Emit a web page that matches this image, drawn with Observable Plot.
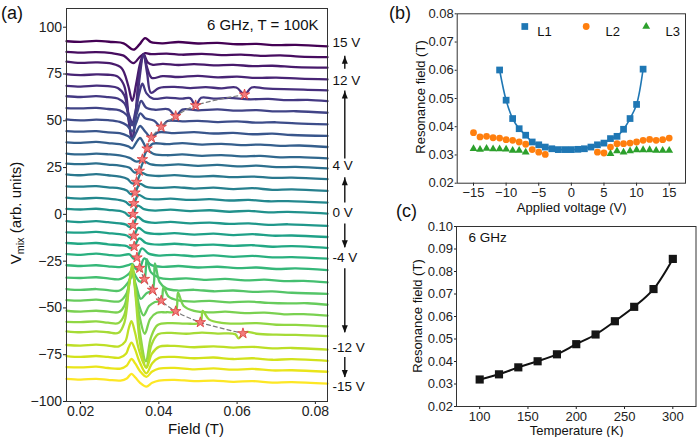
<!DOCTYPE html>
<html><head><meta charset="utf-8">
<script src="https://cdn.jsdelivr.net/npm/d3@7"></script>
<script src="https://cdn.jsdelivr.net/npm/@observablehq/plot@0.6"></script>
<style>
body{margin:0;background:#fff;}
#wrap{position:relative;width:697px;height:437px;overflow:hidden;font-family:"Liberation Sans",Arial,sans-serif;color:#111;background:#fff;}
.t{position:absolute;white-space:nowrap;line-height:1;}
.c{transform:translate(-50%,-50%);}
.r{transform:translate(-50%,-50%) rotate(-90deg);}
.t sub{font-size:0.72em;vertical-align:-0.28em;line-height:0;}
</style></head><body><div id="wrap"></div>
<script>
// ---------- Panel (a): waterfall of Vmix traces ----------
const fieldDomain = [0.0164, 0.0831];
const vmixDomain = [-100, 110];
const fieldTicks = [0.02, 0.04, 0.06, 0.08];
const vmixTicks = [-100, -75, -50, -25, 0, 25, 50, 75, 100];

const voltages = [15,14,13,12,11,10,9,8,7,6,5,4,3,2,1,0,-1,-2,-3,-4,-5,-6,-7,-8,-9,-10,-11,-12,-13,-14,-15];
const offsets = [91.2,85.3,79.6,73.4,67.5,61.8,55.6,49.4,43.2,37.3,31.2,25.9,20.1,13.8,7.6,1.7,-4.9,-10.8,-16.6,-22.4,-28.5,-35.0,-41.2,-47.0,-52.8,-58.6,-63.8,-71.0,-77.0,-82.8,-89.2];

// [field (T), value relative to the trace offset]
const traces = [
 [[0.0164,1.3],[0.020,1.0],[0.024,1.5],[0.028,0.9],[0.031,0.2],[0.0335,-3.2],[0.0350,-0.5],[0.0365,3.0],[0.0380,0.8],[0.041,0.2],[0.045,0.9],[0.050,0.1],[0.055,0.4],[0.060,-0.3],[0.065,-0.1],[0.070,-0.8],[0.075,-0.6],[0.0831,-1.4]],
 [[0.0164,1.5],[0.020,1.1],[0.024,1.4],[0.028,0.8],[0.031,-0.5],[0.0335,-4.5],[0.0352,-1.0],[0.0365,0.8],[0.038,0.3],[0.042,0.6],[0.046,0.0],[0.051,0.5],[0.056,-0.2],[0.061,0.1],[0.066,-0.6],[0.071,-0.3],[0.076,-1.0],[0.0831,-1.3]],
 [[0.0164,2.0],[0.020,1.3],[0.024,1.6],[0.028,0.9],[0.0305,-1.5],[0.0322,-11],[0.0332,-19],[0.0342,-10],[0.0352,1],[0.0361,6],[0.0372,1.5],[0.0385,0.3],[0.041,0.8],[0.045,0.2],[0.049,0.7],[0.054,0.0],[0.059,0.3],[0.064,-0.4],[0.069,-0.2],[0.075,-0.9],[0.0831,-1.2]],
 [[0.0164,1.5],[0.020,1.0],[0.024,1.4],[0.027,1.2],[0.0295,0.2],[0.0312,-5],[0.0324,-24],[0.0332,-34],[0.0340,-21],[0.0350,2],[0.0361,12],[0.0370,5],[0.0382,-0.5],[0.041,0.5],[0.045,0.0],[0.050,0.6],[0.055,-0.2],[0.060,0.2],[0.065,-0.5],[0.070,-0.3],[0.076,-0.9],[0.0831,-1.3]],
 [[0.0164,1.2],[0.020,0.8],[0.024,1.3],[0.027,1.0],[0.0295,0.0],[0.0312,-4],[0.0324,-19],[0.0332,-28],[0.0340,-17],[0.0350,4],[0.0361,18],[0.0370,8],[0.0380,-2.5],[0.040,0.0],[0.044,0.6],[0.048,0.0],[0.052,0.5],[0.056,-0.2],[0.0598,0.3],[0.0619,-3.5],[0.0637,0.3],[0.067,-0.2],[0.072,-0.6],[0.077,-0.8],[0.0831,-1.3]],
 [[0.0164,1.3],[0.020,0.9],[0.024,1.4],[0.027,0.8],[0.0295,0.1],[0.0312,-2.5],[0.0324,-9],[0.0332,-13],[0.0341,-6],[0.0350,3],[0.0358,8],[0.0368,3],[0.0385,0.0],[0.042,0.6],[0.046,0.0],[0.0480,0.3],[0.0494,-3.6],[0.0508,0.5],[0.054,0.0],[0.058,0.4],[0.063,-0.3],[0.068,-0.1],[0.073,-0.8],[0.078,-0.6],[0.0831,-1.3]],
 [[0.0164,1.2],[0.020,1.0],[0.024,1.3],[0.027,0.7],[0.030,0.0],[0.0318,-2.5],[0.0332,-8],[0.0344,-1.5],[0.0355,5],[0.0367,1.5],[0.039,0.3],[0.0425,0.5],[0.0443,-3.1],[0.046,0.4],[0.050,0.0],[0.055,0.5],[0.060,-0.2],[0.065,0.1],[0.070,-0.6],[0.075,-0.5],[0.0831,-1.3]],
 [[0.0164,1.3],[0.020,0.8],[0.024,1.2],[0.027,0.9],[0.030,0.0],[0.0318,-1.8],[0.0332,-5],[0.0343,0.0],[0.0353,4.5],[0.0365,2],[0.0388,0.6],[0.0406,-2.7],[0.0422,0.5],[0.046,0.3],[0.050,0.6],[0.055,-0.1],[0.060,0.3],[0.065,-0.4],[0.070,-0.2],[0.075,-0.8],[0.0831,-1.3]],
 [[0.0164,1.3],[0.020,1.0],[0.024,1.3],[0.027,0.6],[0.030,0.2],[0.0322,-1.5],[0.0332,-3],[0.0342,0.5],[0.0352,4],[0.0366,0.8],[0.0381,-2.2],[0.0398,0.6],[0.044,0.2],[0.049,0.7],[0.054,0.0],[0.059,0.3],[0.064,-0.4],[0.069,-0.1],[0.074,-0.8],[0.0831,-1.3]],
 [[0.0164,1.2],[0.020,0.9],[0.024,1.4],[0.027,0.8],[0.030,0.2],[0.0322,-1],[0.0332,-2],[0.0342,1],[0.0352,3.5],[0.0360,1.2],[0.0370,-2.2],[0.0385,0.5],[0.042,0.2],[0.046,0.8],[0.051,0.0],[0.056,0.4],[0.061,-0.3],[0.066,0.0],[0.071,-0.7],[0.076,-0.5],[0.0831,-1.3]],
 [[0.0164,1.3],[0.020,0.8],[0.024,1.2],[0.027,0.9],[0.030,0.3],[0.0325,-1.0],[0.0343,-3.0],[0.0358,-1.8],[0.0370,2.8],[0.0388,1.0],[0.042,0.4],[0.046,0.8],[0.051,0.1],[0.056,0.5],[0.061,-0.2],[0.066,0.0],[0.071,-0.7],[0.076,-0.6],[0.0831,-1.3]],
 [[0.0164,1.2],[0.020,0.9],[0.024,1.3],[0.027,0.7],[0.030,0.2],[0.0325,-1.0],[0.0338,-3.6],[0.0350,-2.7],[0.0362,2.2],[0.0380,0.8],[0.041,0.3],[0.045,0.8],[0.050,0.0],[0.055,0.5],[0.060,-0.3],[0.065,0.1],[0.070,-0.7],[0.075,-0.5],[0.0831,-1.3]],
 [[0.0164,1.3],[0.020,0.8],[0.024,1.4],[0.027,0.8],[0.030,0.1],[0.0320,-1.2],[0.0332,-3.6],[0.0343,-2.8],[0.0355,2.0],[0.0372,0.8],[0.040,0.4],[0.044,0.9],[0.049,0.1],[0.054,0.4],[0.059,-0.2],[0.064,0.1],[0.069,-0.6],[0.074,-0.5],[0.0831,-1.3]],
 [[0.0164,1.2],[0.020,1.0],[0.024,1.3],[0.027,0.6],[0.030,0.1],[0.0318,-1.0],[0.0328,-3.0],[0.0339,-2.2],[0.0351,2.4],[0.0368,0.9],[0.040,0.3],[0.044,0.8],[0.049,0.0],[0.054,0.5],[0.059,-0.3],[0.064,0.2],[0.069,-0.7],[0.074,-0.4],[0.0831,-1.3]],
 [[0.0164,1.3],[0.020,0.8],[0.024,1.2],[0.027,0.8],[0.030,0.0],[0.0316,-1.0],[0.0325,-2.6],[0.0336,-1.7],[0.0348,2.8],[0.0365,1.0],[0.039,0.4],[0.043,0.8],[0.048,0.1],[0.053,0.5],[0.058,-0.2],[0.063,0.1],[0.068,-0.6],[0.073,-0.5],[0.0831,-1.3]],
 [[0.0164,1.2],[0.020,0.9],[0.024,1.3],[0.027,0.7],[0.030,0.1],[0.0314,-0.9],[0.0323,-2.5],[0.0334,-1.6],[0.0346,3.0],[0.0362,1.1],[0.039,0.3],[0.043,0.8],[0.048,0.0],[0.053,0.5],[0.058,-0.3],[0.063,0.2],[0.068,-0.6],[0.073,-0.4],[0.0831,-1.3]],
 [[0.0164,1.3],[0.020,0.8],[0.024,1.3],[0.027,0.7],[0.030,0.1],[0.0316,-0.6],[0.0325,-1.8],[0.0334,-0.9],[0.0346,3.5],[0.0362,1.3],[0.039,0.4],[0.043,0.9],[0.048,0.1],[0.053,0.5],[0.058,-0.2],[0.063,0.1],[0.068,-0.7],[0.073,-0.4],[0.0831,-1.3]],
 [[0.0164,1.2],[0.020,1.0],[0.024,1.4],[0.027,0.8],[0.030,0.2],[0.0318,-0.5],[0.0327,-1.6],[0.0336,-0.7],[0.0348,3.6],[0.0365,1.2],[0.040,0.3],[0.044,0.8],[0.049,0.0],[0.054,0.5],[0.059,-0.3],[0.064,0.2],[0.069,-0.6],[0.074,-0.5],[0.0831,-1.3]],
 [[0.0164,1.3],[0.020,0.9],[0.024,1.3],[0.027,0.6],[0.030,0.1],[0.0318,-0.4],[0.0328,-1.5],[0.0337,-0.6],[0.0350,3.8],[0.0367,1.3],[0.040,0.4],[0.044,0.9],[0.049,0.1],[0.054,0.4],[0.059,-0.2],[0.064,0.1],[0.069,-0.7],[0.074,-0.4],[0.0831,-1.3]],
 [[0.0164,1.2],[0.020,0.8],[0.024,1.4],[0.027,0.8],[0.030,0.3],[0.0325,1.0],[0.0335,-1.2],[0.0344,-0.7],[0.0357,4.2],[0.0374,1.4],[0.040,0.4],[0.044,0.8],[0.049,0.0],[0.054,0.5],[0.059,-0.3],[0.064,0.2],[0.069,-0.6],[0.074,-0.5],[0.0831,-1.3]],
 [[0.0164,1.3],[0.020,0.9],[0.024,1.3],[0.027,0.7],[0.030,0.3],[0.0324,1.5],[0.0332,2.0],[0.0342,-0.8],[0.0351,-0.2],[0.0363,5.0],[0.0380,1.5],[0.041,0.4],[0.045,0.9],[0.050,0.1],[0.055,0.5],[0.060,-0.2],[0.065,0.1],[0.070,-0.7],[0.075,-0.4],[0.0831,-1.3]],
 [[0.0164,1.2],[0.020,1.0],[0.024,1.4],[0.027,0.8],[0.030,0.4],[0.0322,3],[0.0332,5],[0.0342,1.5],[0.0352,-1],[0.0363,0.4],[0.0369,11],[0.0380,4],[0.040,1.2],[0.043,0.4],[0.047,0.8],[0.052,0.0],[0.057,0.5],[0.062,-0.3],[0.067,0.1],[0.072,-0.7],[0.077,-0.5],[0.0831,-1.3]],
 [[0.0164,1.3],[0.020,0.8],[0.024,1.3],[0.027,0.7],[0.030,0.5],[0.0322,5],[0.0332,9],[0.0342,3],[0.0354,-4],[0.0368,-1],[0.0384,0.8],[0.0390,15],[0.0402,5],[0.042,1.5],[0.045,0.5],[0.049,0.9],[0.054,0.1],[0.059,0.5],[0.064,-0.2],[0.069,0.0],[0.074,-0.7],[0.0831,-1.3]],
 [[0.0164,1.2],[0.020,0.9],[0.024,1.4],[0.027,0.8],[0.0300,0.6],[0.0318,5],[0.0325,11],[0.0332,15],[0.0341,8],[0.0350,-2],[0.0361,-7],[0.0375,-2],[0.039,0.2],[0.0406,0.9],[0.0412,8],[0.0425,3],[0.045,1],[0.049,0.4],[0.053,0.8],[0.058,0.0],[0.063,0.4],[0.068,-0.3],[0.073,-0.6],[0.078,-0.5],[0.0831,-1.3]],
 [[0.0164,1.3],[0.020,0.8],[0.024,1.3],[0.027,0.8],[0.0298,0.6],[0.0312,4],[0.0324,16],[0.0332,23],[0.0341,12],[0.0352,-3],[0.0364,-11],[0.0378,-3],[0.0395,0.2],[0.042,0.5],[0.0443,1.0],[0.0449,11],[0.0463,4],[0.049,1.2],[0.053,0.4],[0.057,0.8],[0.062,0.0],[0.067,0.3],[0.072,-0.6],[0.077,-0.5],[0.0831,-1.3]],
 [[0.0164,1.2],[0.020,1.0],[0.024,1.4],[0.027,0.7],[0.0297,0.5],[0.0312,5],[0.0324,21],[0.0332,30],[0.0341,16],[0.0352,-5],[0.0367,-20],[0.0380,-7],[0.0397,-0.5],[0.043,0.5],[0.047,0.2],[0.0506,0.9],[0.0512,7],[0.0528,2.5],[0.056,0.6],[0.060,0.2],[0.065,0.5],[0.070,-0.4],[0.075,-0.5],[0.0831,-1.3]],
 [[0.0164,1.3],[0.020,0.8],[0.024,1.3],[0.027,0.8],[0.0297,0.5],[0.0312,6],[0.0324,26],[0.0332,37],[0.0341,19],[0.0352,-5],[0.0368,-18],[0.0381,-6],[0.0398,-0.3],[0.043,0.5],[0.047,0.0],[0.051,0.6],[0.055,0.1],[0.0595,-0.2],[0.0604,-2.5],[0.0615,0.2],[0.0626,1.0],[0.065,0.0],[0.070,-0.5],[0.075,-0.6],[0.0831,-1.3]],
 [[0.0164,1.2],[0.020,0.9],[0.024,1.4],[0.027,0.9],[0.0298,0.5],[0.0314,3],[0.0323,10],[0.0330,14],[0.0339,8],[0.0350,-2],[0.0368,-11],[0.0382,-3.5],[0.040,0.2],[0.044,0.7],[0.049,0.0],[0.054,0.5],[0.059,-0.2],[0.064,0.2],[0.069,-0.6],[0.074,-0.4],[0.0831,-1.3]],
 [[0.0164,1.3],[0.020,0.8],[0.024,1.3],[0.027,0.8],[0.0300,0.4],[0.0316,2.5],[0.0323,6],[0.0330,8.5],[0.0339,5],[0.0350,-1.5],[0.0368,-8],[0.0383,-2.5],[0.040,0.3],[0.044,0.8],[0.049,0.1],[0.054,0.5],[0.059,-0.3],[0.064,0.1],[0.069,-0.7],[0.074,-0.4],[0.0831,-1.3]],
 [[0.0164,1.2],[0.020,1.0],[0.024,1.4],[0.027,0.7],[0.0302,0.4],[0.0318,2],[0.0330,5.5],[0.0340,3],[0.0352,-1],[0.0368,-4],[0.0383,-1.2],[0.040,0.4],[0.044,0.8],[0.049,0.0],[0.054,0.5],[0.059,-0.2],[0.064,0.2],[0.069,-0.6],[0.074,-0.5],[0.0831,-1.3]],
 [[0.0164,1.3],[0.020,0.9],[0.024,1.3],[0.027,0.8],[0.0302,0.4],[0.0318,1.5],[0.0330,4],[0.0340,2],[0.0352,-0.8],[0.0368,-2.8],[0.0383,-0.8],[0.040,0.4],[0.044,0.8],[0.049,0.1],[0.054,0.4],[0.059,-0.3],[0.064,0.1],[0.069,-0.7],[0.074,-0.4],[0.0831,-1.3]]
];

// resonance markers (stars) in panel (a)
const starVolts  = [11,10,9,8,7,6,5,4,3,2,1,0,-1,-2,-3,-4,-5,-6,-7,-8,-9,-10,-11];
const starFields = [0.0619,0.0494,0.0443,0.0406,0.0381,0.0370,0.0358,0.0350,0.0343,0.0339,0.0336,0.0334,0.0334,0.0336,0.0337,0.0344,0.0351,0.0363,0.0384,0.0406,0.0443,0.0506,0.0615];
const starValues = [64.0,58.2,52.5,46.7,41.0,35.1,29.4,23.2,17.3,11.6,5.9,0.1,-5.8,-11.5,-17.2,-23.1,-28.7,-34.6,-40.4,-46.1,-51.8,-57.7,-63.6];
const dashedVolts = [11,10,9,8,7,6,-5,-6,-7,-8,-9,-10,-11];

// voltage labels and sweep arrows on the right of panel (a)
const voltLabels = ["15 V","12 V","4 V","0 V","-4 V","-12 V","-15 V"];
const voltLabelY = [91.5,71.7,25.9,0.8,-23.2,-71.2,-92.0];
const arrowFrom = [77.6,29.6,6.1,-5.1,-29.1,-76.5];
const arrowTo   = [84.5,65.9,19.5,-17.9,-63.2,-87.2];

// ---------- Panel (b) ----------
const voltsL1 = [-11,-10,-9,-8,-7,-6,-5,-4,-3,-2,-1,0,1,2,3,4,5,6,7,8,9,10,11];
const fieldL1 = [0.0601,0.0494,0.0429,0.0393,0.0370,0.0346,0.0336,0.0328,0.0322,0.0319,0.0319,0.0319,0.0320,0.0322,0.0328,0.0336,0.0342,0.0358,0.0366,0.0391,0.0429,0.0479,0.0604];
const voltsL2 = [-15,-14,-13,-12,-11,-10,-9,-8,-7,-6,-5,-4,4,5,6,7,8,9,10,11,12,13,14,15];
const fieldL2 = [0.0379,0.0364,0.0366,0.0361,0.0360,0.0354,0.0352,0.0346,0.0338,0.0319,0.0310,0.0302,0.0310,0.0307,0.0328,0.0340,0.0340,0.0342,0.0346,0.0352,0.0355,0.0352,0.0354,0.0360];
const voltsL3 = [-15,-14,-13,-12,-11,-10,-9,-8,-7,6,7,8,9,10,11,12,13,14,15];
const fieldL3 = [0.0322,0.0319,0.0323,0.0321,0.0321,0.0320,0.0316,0.0316,0.0310,0.0304,0.0314,0.0310,0.0314,0.0318,0.0318,0.0318,0.0316,0.0316,0.0316];
const voltTicks = [-15,-10,-5,0,5,10,15];
const resTicksB = [0.02,0.03,0.04,0.05,0.06,0.07,0.08];
const legendNames = ["L1","L2","L3"];
const seriesColors = ["#1f77b4","#ff7f0e","#2ca02c"];

// ---------- Panel (c) ----------
const temps  = [100,120,140,160,180,200,220,240,260,280,300];
const fieldT = [0.0320,0.0343,0.0374,0.0401,0.0432,0.0477,0.0520,0.0579,0.0643,0.0722,0.0856];
const tempTicks = [100,150,200,250,300];
const resTicksC = [0.02,0.03,0.04,0.05,0.06,0.07,0.08,0.09,0.10];

const FONT = '"Liberation Sans", Arial, sans-serif';
const wrap = document.getElementById("wrap");
function place(el, left, top) {
  el.style.position = "absolute"; el.style.left = left + "px"; el.style.top = top + "px";
  wrap.appendChild(el);
}
function addText(html, x, y, size, cls) {
  const d = document.createElement("div");
  d.className = "t " + cls;
  d.innerHTML = html;
  d.style.left = x + "px"; d.style.top = y + "px"; d.style.fontSize = size + "px";
  wrap.appendChild(d);
}

// build rows
const traceRows = [];
voltages.forEach((v, i) => traces[i].forEach(([f, d]) => traceRows.push({v, f, y: offsets[i] + d})));
const starRows = starVolts.map((v, i) => ({v, f: starFields[i], y: starValues[i], side: v > 0 ? "p" : "n"}));
const dashRows = starRows.filter(d => dashedVolts.includes(d.v));
const labelRows = voltLabels.map((t, i) => ({t, y: voltLabelY[i]}));
const arrowRows = arrowFrom.map((a, i) => ({a, b: arrowTo[i], up: arrowTo[i] > a}));
const headUp = {draw(ctx){ctx.moveTo(0,0);ctx.lineTo(-3,7.5);ctx.lineTo(3,7.5);ctx.closePath();}};
const headDown = {draw(ctx){ctx.moveTo(0,0);ctx.lineTo(-3,-7.5);ctx.lineTo(3,-7.5);ctx.closePath();}};
const xRight = () => fieldDomain[1];

const chartA = Plot.plot({
  width: 375, height: 437,
  marginLeft: 66, marginRight: 48, marginTop: 8, marginBottom: 36,
  style: {fontFamily: FONT, fontSize: "14px", color: "#222", background: "transparent", overflow: "visible"},
  x: {domain: fieldDomain, ticks: fieldTicks, tickFormat: ".2f", label: null, tickSize: 3, tickPadding: 2},
  y: {domain: vmixDomain, ticks: vmixTicks, label: null, tickSize: 3, tickPadding: 1.5},
  color: {type: "linear", scheme: "viridis", domain: [-15, 15], reverse: true},
  marks: [
    Plot.line(traceRows, {x: "f", y: "y", z: "v", stroke: "v", strokeWidth: 2.3, curve: "catmull-rom"}),
    Plot.line(dashRows, {x: "f", y: "y", z: "side", stroke: "#7a7a7a", strokeWidth: 1.2, strokeDasharray: "4,3", curve: "catmull-rom"}),
    Plot.dot(starRows, {x: "f", y: "y", symbol: "star", r: 3.3, fill: "#f27c7c", stroke: "#dd3b3b", strokeWidth: 0.8}),
    Plot.text(["6 GHz, T = 100K"], {frameAnchor: "top-right", text: d => d, dx: -9, dy: 11, lineAnchor: "top", textAnchor: "end", fontSize: 15, fill: "#111"}),
    Plot.text(labelRows, {x: xRight, y: "y", text: "t", dx: 5, textAnchor: "start", fontSize: 13.5, fill: "#111"}),
    Plot.ruleX(arrowRows, {x: xRight, y1: "a", y2: "b", dx: 17.3, stroke: "#111", strokeWidth: 1.4}),
    Plot.dot(arrowRows.filter(d => d.up), {x: xRight, y: "b", dx: 17.3, symbol: headUp, r: 3, fill: "#111", stroke: "none"}),
    Plot.dot(arrowRows.filter(d => !d.up), {x: xRight, y: "b", dx: 17.3, symbol: headDown, r: 3, fill: "#111", stroke: "none"}),
    Plot.frame({stroke: "#333"})
  ]
});
place(chartA, 0, 0);

// panel (b)
const rowsL1 = voltsL1.map((v, i) => ({v, f: fieldL1[i]}));
const rowsL2 = voltsL2.map((v, i) => ({v, f: fieldL2[i]}));
const rowsL3 = voltsL3.map((v, i) => ({v, f: fieldL3[i]}));
const chartB = Plot.plot({
  width: 317, height: 215,
  marginLeft: 76.7, marginRight: 12, marginTop: 13.3, marginBottom: 32.3,
  style: {fontFamily: FONT, fontSize: "13px", color: "#222", background: "transparent", overflow: "visible"},
  x: {domain: [-17.5, 17.5], ticks: voltTicks, label: null, tickSize: 3, tickPadding: 2},
  y: {domain: [0.02, 0.08], ticks: resTicksB, tickFormat: ".2f", label: null, tickSize: 2, tickPadding: 1.5},
  marks: [
    Plot.line(rowsL1, {x: "v", y: "f", stroke: seriesColors[0], strokeWidth: 1.6, curve: "catmull-rom"}),
    Plot.dot(rowsL1, {x: "v", y: "f", symbol: "square", r: 3.8, fill: seriesColors[0], stroke: "none"}),
    Plot.dot(rowsL2, {x: "v", y: "f", symbol: "circle", r: 3.4, fill: seriesColors[1], stroke: "none"}),
    Plot.dot(rowsL3, {x: "v", y: "f", symbol: "triangle", r: 2.9, fill: seriesColors[2], stroke: "none"}),
    Plot.dot([0], {frameAnchor: "top-left", dx: 67.6, dy: 12.7, symbol: "square", r: 3.8, fill: seriesColors[0], stroke: "none"}),
    Plot.dot([0], {frameAnchor: "top-left", dx: 129, dy: 12.7, symbol: "circle", r: 3.4, fill: seriesColors[1], stroke: "none"}),
    Plot.dot([0], {frameAnchor: "top-left", dx: 189, dy: 12.7, symbol: "triangle", r: 2.9, fill: seriesColors[2], stroke: "none"}),
    Plot.text([legendNames[0]], {frameAnchor: "top-left", text: d => d, dx: 80, dy: 12.7, textAnchor: "start", fontSize: 13, fill: "#111"}),
    Plot.text([legendNames[1]], {frameAnchor: "top-left", text: d => d, dx: 148.3, dy: 12.7, textAnchor: "start", fontSize: 13, fill: "#111"}),
    Plot.text([legendNames[2]], {frameAnchor: "top-left", text: d => d, dx: 208.3, dy: 12.7, textAnchor: "start", fontSize: 13, fill: "#111"}),
    Plot.frame({stroke: "#333"})
  ]
});
place(chartB, 380, 0);

// panel (c)
const rowsT = temps.map((t, i) => ({t, f: fieldT[i]}));
const chartC = Plot.plot({
  width: 317, height: 222,
  marginLeft: 76, marginRight: 1.5, marginTop: 11, marginBottom: 31,
  style: {fontFamily: FONT, fontSize: "13px", color: "#222", background: "transparent", overflow: "visible"},
  x: {domain: [76, 324], ticks: tempTicks, label: null, tickSize: 3, tickPadding: 2},
  y: {domain: [0.02, 0.10], ticks: resTicksC, tickFormat: ".2f", label: null, tickSize: 2, tickPadding: 1.5},
  marks: [
    Plot.line(rowsT, {x: "t", y: "f", stroke: "#111", strokeWidth: 2, curve: "catmull-rom"}),
    Plot.dot(rowsT, {x: "t", y: "f", symbol: "square", r: 4.6, fill: "#151515", stroke: "none"}),
    Plot.text(["6 GHz"], {frameAnchor: "top-left", text: d => d, dx: 12, dy: 5.5, lineAnchor: "top", textAnchor: "start", fontSize: 13.5, fill: "#111"}),
    Plot.frame({stroke: "#333"})
  ]
});
place(chartC, 380, 215);

// panel letters & axis titles
addText("(a)", 1, 4, 18, "");
addText("(b)", 389, 4, 18, "");
addText("(c)", 396, 202, 18, "");
addText("V<sub>mix</sub> (arb. units)", 15, 213, 15, "r");
addText("Field (T)", 196, 428, 15, "c");
addText("Resonance field (T)", 420, 97, 13, "r");
addText("Applied voltage (V)", 571.7, 206.7, 13, "c");
addText("Resonance field (T)", 416.7, 316, 13, "r");
addText("Temperature (K)", 576.7, 430, 13, "c");
</script></body></html>
